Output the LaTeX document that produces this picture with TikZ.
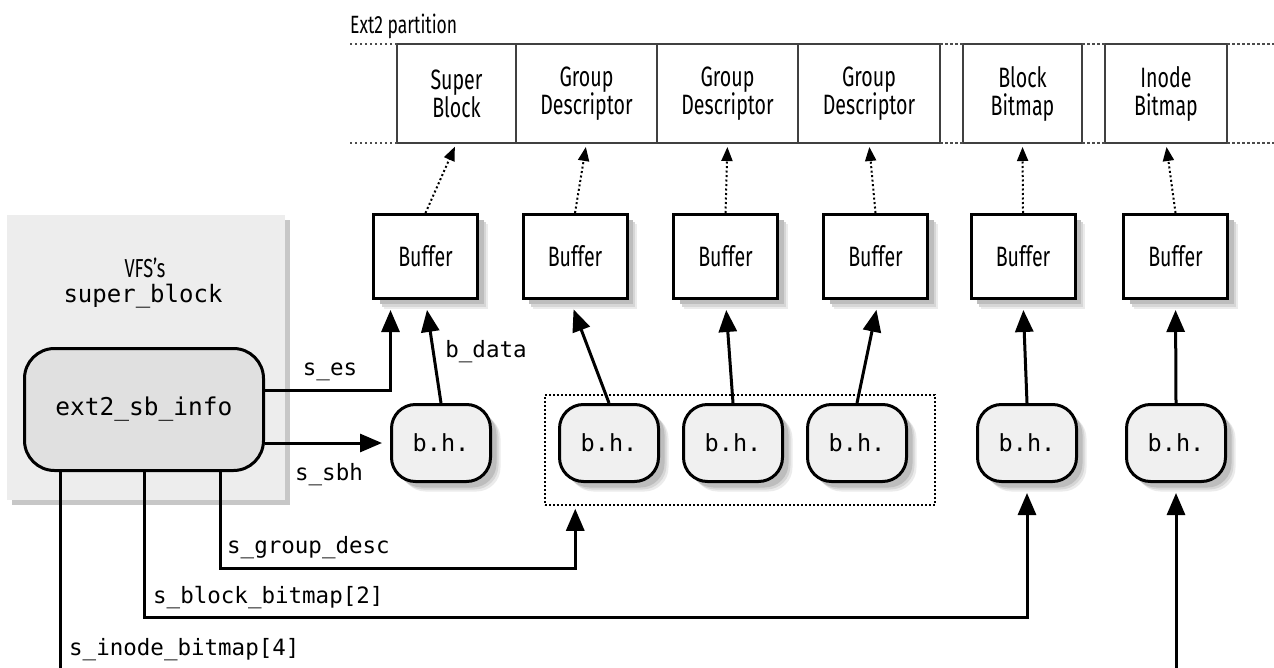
\documentclass[tikz,border=0pt]{standalone}
\usepackage{fontspec}
\setsansfont{Fira Sans}[FakeStretch=0.7]
\setmonofont{DejaVu Sans Mono}
\usetikzlibrary{arrows.meta,positioning,shadows}

\tikzset{
  softshadow/.style={
    drop shadow={shadow xshift=10pt, shadow yshift=-10pt, opacity=1, fill=black!8},
    drop shadow={shadow xshift=8pt, shadow yshift=-8pt, opacity=1, fill=black!16},
    drop shadow={shadow xshift=6pt, shadow yshift=-6pt, opacity=1, fill=black!26}},
  cell/.style={draw=black!75, line width=1.5pt, outer sep=0pt, inner sep=0pt,
    minimum height=99pt, align=center, font=\sffamily\fontsize{28}{28}\selectfont},
  buffer/.style={draw, line width=3pt, fill=white, minimum width=104pt, minimum height=84pt,
    font=\sffamily\fontsize{28}{28}\selectfont, softshadow},
  bh/.style={draw, line width=3pt, fill=black!6, rounded corners=24pt, minimum width=99pt,
    minimum height=77pt, font=\ttfamily\fontsize{23.5}{24}\selectfont, softshadow},
  ptr/.style={line width=3pt, -{Triangle[length=22pt,width=18pt]}},
  wire/.style={line width=3pt},
  dotptr/.style={line width=2pt, dash pattern=on 2pt off 2.5pt,
    -{Triangle[length=14pt,width=11pt]}, shorten >=4pt},
  partdots/.style={line width=1.5pt, black!70, dash pattern=on 2.5pt off 2.5pt},
  lbl/.style={font=\ttfamily\fontsize{22.5}{24}\selectfont, inner sep=0pt},
}

\begin{document}
\begin{tikzpicture}[x=1pt, y=-1pt]
\useasboundingbox (0,0) rectangle (1274,668);

% disk partition
\node (sb)  [cell, minimum width=119pt] at (456.5,93.5) {Super\\Block};
\node (gd1) [cell, minimum width=141pt, right=0pt of sb]  {Group\\Descriptor};
\node (gd2) [cell, minimum width=141pt, right=0pt of gd1] {Group\\Descriptor};
\node (gd3) [cell, minimum width=142pt, right=0pt of gd2] {Group\\Descriptor};
\node (bb)  [cell, minimum width=119pt, right=23pt of gd3] {Block\\Bitmap};
\node (ib)  [cell, minimum width=122pt, right=23pt of bb]  {Inode\\Bitmap};
\node (partlbl) [anchor=base west, inner sep=0pt, font=\sffamily\fontsize{25}{25}\selectfont]
  at (350,34) {Ext2 partition};

\draw[partdots] (sb.north west) -- +(-47,0);
\draw[partdots] (sb.south west) -- +(-47,0);
\draw[partdots] (gd3.north east) -- (bb.north west);
\draw[partdots] (gd3.south east) -- (bb.south west);
\draw[partdots] (bb.north east) -- (ib.north west);
\draw[partdots] (bb.south east) -- (ib.south west);
\draw[partdots] (ib.north east) -- +(47,0);
\draw[partdots] (ib.south east) -- +(47,0);

% VFS super block
\node (vfs) [fill=black!7, minimum width=278pt, minimum height=285pt,
  drop shadow={shadow xshift=5pt, shadow yshift=-5pt, fill=black!22, opacity=1}] at (146,357.5) {};
\node (vfsname) [anchor=base, font=\sffamily\fontsize{26}{26}\selectfont] at (145,278) {VFS’s};
\node (sbname) [anchor=base, font=\ttfamily\fontsize{24}{24}\selectfont] at (143,302) {super\_block};
\node (ext2) [draw, line width=3pt, fill=black!12, rounded corners=30pt, minimum width=239pt,
  minimum height=122pt, font=\ttfamily\fontsize{24.5}{25}\selectfont] at (144,409.5) {ext2\_sb\_info};

% buffers
\node (buf1) [buffer] at (425.5,256.5) {Buffer};
\node (buf2) [buffer] at (575,256.5) {Buffer};
\node (buf3) [buffer] at (725.5,256.5) {Buffer};
\node (buf4) [buffer] at (875.5,256.5) {Buffer};
\node (buf5) [buffer] at (1023,256.5) {Buffer};
\node (buf6) [buffer] at (1175.5,256.5) {Buffer};

% buffer heads
\node (grp) [draw, line width=1.5pt, dash pattern=on 2pt off 2pt, minimum width=390pt,
  minimum height=110pt] at (740,450) {};
\node (bh1) [bh] at (441,443) {b.h.};
\node (bh2) [bh] at (609,443) {b.h.};
\node (bh3) [bh] at (733,443) {b.h.};
\node (bh4) [bh] at (857,443) {b.h.};
\node (bh5) [bh] at (1027,443) {b.h.};
\node (bh6) [bh] at (1176,443) {b.h.};

\draw[dotptr] (buf1.north) -- (sb.south);
\draw[dotptr] (buf2.north) -- (gd1.south);
\draw[dotptr] (buf3.north) -- (gd2.south);
\draw[dotptr] (buf4.north) -- (gd3.south);
\draw[dotptr] (buf5.north) -- (bb.south);
\draw[dotptr] (buf6.north) -- (ib.south);

\draw[ptr, shorten >=10pt] (bh1.north) -- (buf1.south);
\draw[ptr, shorten >=10pt] (bh2.north) -- ([xshift=-5pt]buf2.south);
\draw[ptr, shorten >=10pt] (bh3.north) -- (buf3.south);
\draw[ptr, shorten >=10pt] (bh4.north) -- ([xshift=3pt]buf4.south);
\draw[ptr, shorten >=10pt] (bh5.north) -- (buf5.south);
\draw[ptr, shorten >=10pt] (bh6.north) -- (buf6.south);

% ext2_sb_info fields
\draw[ptr, shorten >=10pt] ([yshift=19pt]ext2.east) -| ([xshift=-35pt]buf1.south);
\draw[ptr, shorten >=8pt] (ext2.east |- bh1.west) -- (bh1.west);
\draw[ptr, shorten >=3pt] ([xshift=76pt]ext2.south) -- ++(0,96) -| ([xshift=31pt]grp.south west);
\draw[ptr, shorten >=10pt] (ext2.south) -- ++(0,145) -| (bh5.south);
\coordinate (cutl) at (60,672);
\coordinate (cutr) at (1176,672);
\draw[wire] ([xshift=-84pt]ext2.south) -- (cutl);
\draw[ptr, shorten >=10pt] (cutr) -- (bh6.south);

\node (ses)   [lbl] at (330,372) {s\_es};
\node (ssbh)  [lbl] at (329,475) {s\_sbh};
\node (bdata) [lbl] at (486,352) {b\_data};
\node (sgd)   [lbl, anchor=west] at (227,548) {s\_group\_desc};
\node (sbb)   [lbl, anchor=west] at (153,598) {s\_block\_bitmap[2]};
\node (sib)   [lbl, anchor=west] at (69,650) {s\_inode\_bitmap[4]};

\end{tikzpicture}
\end{document}
